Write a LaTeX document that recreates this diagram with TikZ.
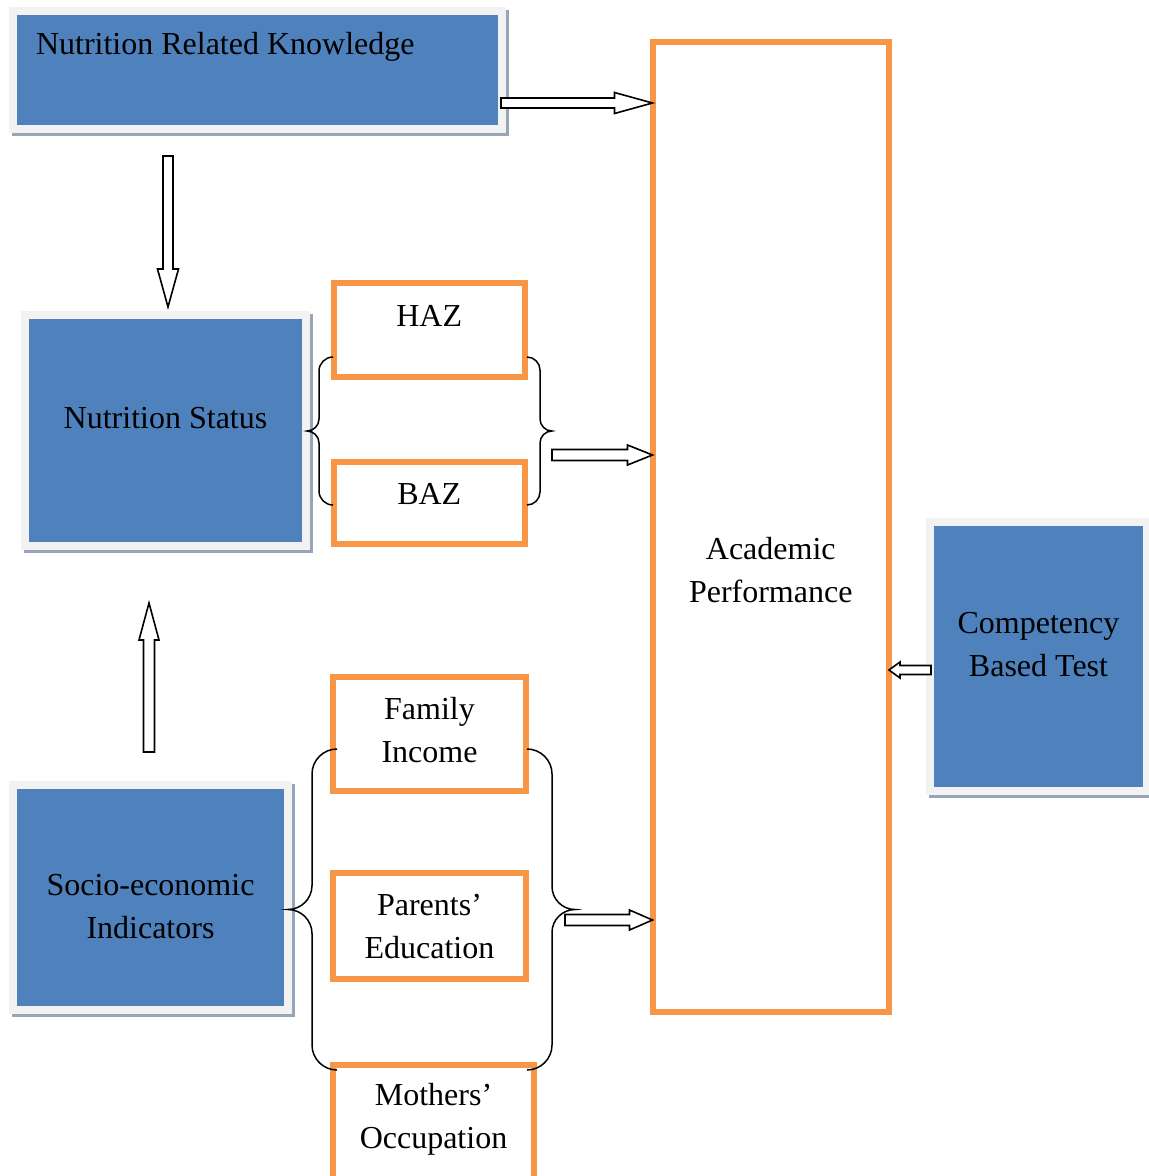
\documentclass[tikz,border=0pt]{standalone}
\usepackage{fontspec}
\setmainfont{Liberation Serif}
\usepackage{tikz}
\usetikzlibrary{arrows.meta, positioning, calc, backgrounds}
\definecolor{nutblue}{HTML}{4F81BD}
\definecolor{nutframe}{HTML}{F2F2F2}
\definecolor{nutshadow}{HTML}{98A5B9}
\definecolor{nutorange}{HTML}{F79646}

\tikzset{
  bluebox/.style={fill=nutblue, draw=nutframe, line width=8pt, inner sep=4pt,
    align=center, font=\fontsize{32}{42.5}\selectfont},
  orangebox/.style={draw=nutorange, line width=6pt, outer sep=0pt, inner sep=4pt,
    align=center, font=\fontsize{32}{42.5}\selectfont},
  tb/.style 2 args={text height=#1pt, text depth=#2pt},
  arrowline/.style={draw=black, fill=white, line width=1.6pt, line join=miter},
  braceline/.style={black, line width=1.5pt},
}

% hollow block arrow: tail, tip, head length, half shaft, half head
\newcommand{\hollowarrow}[5]{%
  \draw[arrowline] let \p1=(#1), \p2=(#2), \n1={atan2(\y2-\y1,\x2-\x1)} in
    ($(#1)+(\n1+90:#4pt)$) -- ($(#2)+(\n1+180:#3pt)+(\n1+90:#4pt)$)
    -- ($(#2)+(\n1+180:#3pt)+(\n1+90:#5pt)$) -- (#2)
    -- ($(#2)+(\n1+180:#3pt)+(\n1-90:#5pt)$) -- ($(#2)+(\n1+180:#3pt)+(\n1-90:#4pt)$)
    -- ($(#1)+(\n1-90:#4pt)$) -- cycle;
}

% curly brace: end x, top y, bottom y, side, curl, depth
\newcommand{\curlybrace}[6]{%
  \pgfmathsetmacro{\bm}{(#2+#3)/2}
  \pgfmathsetmacro{\bv}{#1+(#4)*#5}
  \pgfmathsetmacro{\bp}{#1+(#4)*#6}
  \pgfmathsetmacro{\bq}{#6-#5}
  \draw[braceline] (#1,#2) .. controls ({#1+(#4)*0.55*#5},#2) and (\bv,{#2+0.45*#5}) .. (\bv,{#2+#5})
    -- (\bv,{\bm-\bq}) .. controls (\bv,{\bm-0.45*\bq}) and ({\bv+(#4)*0.45*\bq},\bm) .. (\bp,\bm)
    .. controls ({\bv+(#4)*0.45*\bq},\bm) and (\bv,{\bm+0.45*\bq}) .. (\bv,{\bm+\bq})
    -- (\bv,{#3-#5}) .. controls (\bv,{#3-0.45*#5}) and ({#1+(#4)*0.55*#5},#3) .. (#1,#3);
}

\begin{document}
\begin{tikzpicture}[x=1pt, y=-1pt]
  \useasboundingbox (0,0) rectangle (1149,1176);

  % blue boxes
  \node[bluebox, minimum width=489pt, minimum height=118pt, text width=443pt,
    inner xsep=23pt, align=flush left, tb={30}{62}] (nrk) at (257.5,70) {Nutrition Related Knowledge};
  \node[bluebox, minimum width=281pt, minimum height=231pt, tb={24}{28}] (ns) at (165.5,430.5) {Nutrition Status};
  \node[bluebox, minimum width=275pt, minimum height=225pt, tb={90}{9}] (sei) at (150.5,897.5) {Socio-economic\\Indicators};
  \node[bluebox, minimum width=217pt, minimum height=269pt, tb={50}{11}] (cbt) at (1038.5,656.5) {Competency\\Based Test};

  % orange boxes
  \node[orangebox, minimum width=236.5pt, minimum height=970pt, tb={160}{10}] (ap) at (770.75,527) {Academic\\Performance};
  \node[orangebox, minimum width=191.5pt, minimum height=94pt, tb={24}{32}] (haz) at (429.25,330) {HAZ};
  \node[orangebox, minimum width=191.5pt, minimum height=82pt, tb={24}{22}] (baz) at (429.25,503) {BAZ};
  \node[orangebox, minimum width=193pt, minimum height=114pt, tb={66}{10}] (fi) at (429.5,734) {Family\\Income};
  \node[orangebox, minimum width=193pt, minimum height=106pt, tb={74}{10}] (pe) at (429.5,926) {Parents’\\Education};
  \node[orangebox, minimum width=201pt, minimum height=125pt, tb={51}{10}] (mo) at (433.5,1127.5) {Mothers’\\Occupation};

  % shadows
  \begin{scope}[on background layer]
    \foreach \n in {nrk,ns,sei,cbt}
      \fill[nutshadow] ($(\n.south west)+(3,3)$) rectangle ($(\n.north east)+(3,3)$);
  \end{scope}

  % braces
  \curlybrace{333}{357}{505}{-1}{14}{26}
  \curlybrace{527}{357}{505}{1}{13}{25}
  \curlybrace{337}{749}{1070}{-1}{25}{49}
  \curlybrace{527}{749}{1070}{1}{25}{48}

  % arrows
  \coordinate (a1s) at (501,103);
  \coordinate (a1e) at (ap.west |- a1s);
  \coordinate (a2s) at (168,156);
  \coordinate (a2e) at (168,307);
  \coordinate (a3s) at (552,455);
  \coordinate (a3e) at (ap.west |- a3s);
  \coordinate (a4s) at (149,752);
  \coordinate (a4e) at (149,603);
  \coordinate (a5s) at (565,920);
  \coordinate (a5e) at (ap.west |- a5s);
  \coordinate (a6s) at (931,670);
  \coordinate (a6e) at (ap.east |- a6s);
  \hollowarrow{a1s}{a1e}{38}{5}{10.5}
  \hollowarrow{a2s}{a2e}{38}{5}{10.5}
  \hollowarrow{a3s}{a3e}{25}{5.5}{10}
  \hollowarrow{a4s}{a4e}{37}{5.5}{10}
  \hollowarrow{a5s}{a5e}{23}{5.5}{10}
  \hollowarrow{a6s}{a6e}{11}{4.5}{8}
\end{tikzpicture}
\end{document}
